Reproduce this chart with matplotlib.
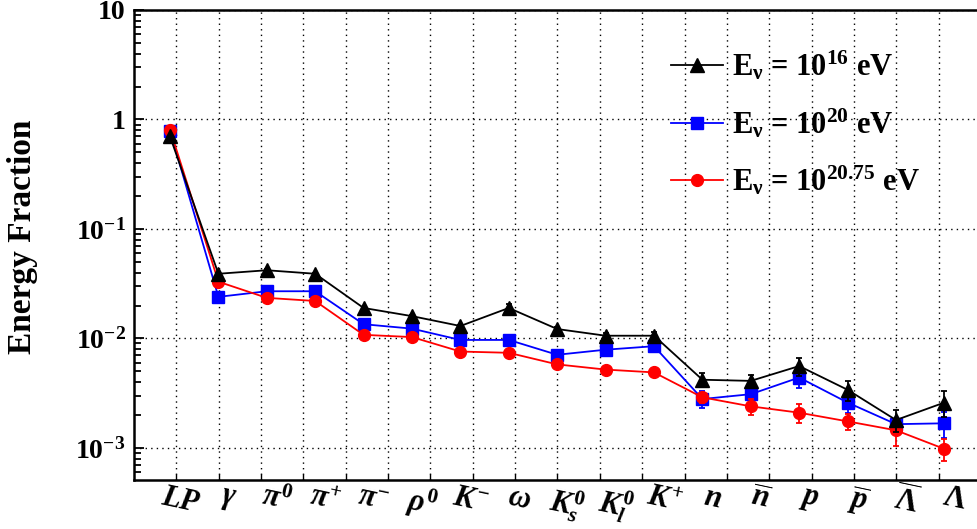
import matplotlib
matplotlib.use("Agg")
import matplotlib.pyplot as plt
from matplotlib.lines import Line2D
from matplotlib.transforms import ScaledTranslation
import numpy as np

plt.rcParams['font.family'] = ['Liberation Serif', 'DejaVu Serif']
plt.rcParams['font.weight'] = 'bold'
plt.rcParams['mathtext.fontset'] = 'custom'
plt.rcParams['mathtext.rm'] = 'Liberation Serif:bold'
plt.rcParams['mathtext.it'] = 'Liberation Serif:bold:italic'
plt.rcParams['mathtext.bf'] = 'Liberation Serif:bold'

# particle species on the x axis
particles = ["LP", r"$\gamma$", r"$\pi^{0}$", r"$\pi^{+}$", r"$\pi^{-}$", r"$\rho^{0}$",
             r"$K^{-}$", r"$\omega$", r"$K_{s}^{0}$", r"$K_{l}^{0}$", r"$K^{+}$",
             r"$n$", r"$\overline{n}$", r"$p$", r"$\overline{p}$",
             r"$\overline{\Lambda}$", r"$\Lambda$"]

# energy fraction per species, three neutrino energies
frac_e16 = [0.70, 0.039, 0.042, 0.039, 0.019, 0.016, 0.013, 0.019, 0.0122, 0.0106,
            0.0106, 0.0042, 0.0041, 0.0056, 0.0034, 0.0018, 0.0026]
err_e16 = [0.01, 0.0008, 0.0008, 0.0008, 0.0005, 0.0005, 0.0004, 0.0016, 0.0006, 0.0006,
           0.0008, 0.0006, 0.0005, 0.0011, 0.0007, 0.0004, 0.0007]

frac_e20 = [0.79, 0.024, 0.027, 0.027, 0.0135, 0.0123, 0.0097, 0.0097, 0.0071, 0.0079,
            0.0085, 0.0028, 0.0031, 0.0044, 0.0026, 0.00165, 0.00168]
err_e20 = [0.01, 0.0006, 0.0006, 0.0006, 0.0004, 0.0004, 0.0003, 0.0004, 0.0004, 0.0005,
           0.0006, 0.0005, 0.0003, 0.0009, 0.0005, 0.0002, 0.00045]

frac_e2075 = [0.81, 0.033, 0.0235, 0.022, 0.0108, 0.0103, 0.0076, 0.0074, 0.0058, 0.0052,
              0.0049, 0.0029, 0.0024, 0.0021, 0.00175, 0.00145, 0.00098]
err_e2075 = [0.01, 0.0008, 0.0006, 0.0006, 0.0004, 0.0004, 0.0003, 0.0003, 0.0004, 0.0003,
             0.0003, 0.0003, 0.0004, 0.0004, 0.0003, 0.0004, 0.00022]

energies = [r"E$_{\mathrm{ν}}$ = 10$^{16}$ eV", r"E$_{\mathrm{ν}}$ = 10$^{20}$ eV",
            r"E$_{\mathrm{ν}}$ = 10$^{20.75}$ eV"]

W, H = 977, 529
fig = plt.figure(figsize=(W / 100, H / 100), dpi=100)
ax = fig.add_axes([134 / W, 49 / H, 846 / W, 470 / H])

x = np.arange(len(particles))

# (values, errors, colour, marker, size, zorder)
series = [
    (frac_e20, err_e20, 'blue', 's', 8, 2),
    (frac_e2075, err_e2075, 'red', 'o', 8.5, 3),
    (frac_e16, err_e16, 'black', '^', 10, 4),
]
for vals, errs, col, mk, ms, z in series:
    ax.errorbar(x, vals, yerr=errs, color=col, marker=mk, markersize=ms,
                lw=1.3, elinewidth=1.3, capsize=2, capthick=1.3, zorder=z)

ax.set_yscale('log')
ax.set_ylim(5.1e-4, 10)
x0 = -36 / 48.4
ax.set_xlim(x0, x0 + 846 / 48.4)

# grid divisions along x are independent of the category positions
step = 42.35 / 48.4
ax.set_xticks(x0 + step * np.arange(1, 20))
ax.set_xticklabels([])
ax.set_xticks(x, minor=True)
ax.set_xticklabels(particles, minor=True, fontsize=22, style='italic', rotation=-12,
                   ha='center', va='top')
ax.tick_params(axis='x', which='major', direction='in', length=4, width=1, top=False)
ax.tick_params(axis='x', which='minor', length=0, pad=2)

# nudge category labels a little to the right of their points
shift = ScaledTranslation(10 / 100, 0, fig.dpi_scale_trans)
for lbl in ax.xaxis.get_minorticklabels():
    lbl.set_transform(lbl.get_transform() + shift)

ax.set_yticks([1e-3, 1e-2, 1e-1, 1, 10])
ax.set_yticklabels([r"10$^{-3}$", r"10$^{-2}$", r"10$^{-1}$", "1", "10"], fontsize=20)
ax.yaxis.set_minor_locator(matplotlib.ticker.LogLocator(base=10, subs=np.arange(2, 10)))
ax.yaxis.set_minor_formatter(matplotlib.ticker.NullFormatter())
ax.tick_params(axis='y', which='major', direction='in', length=7, width=1.3, pad=6)
ax.tick_params(axis='y', which='minor', direction='in', length=5, width=1.3)

ax.grid(True, which='major', color='black', linestyle=(0, (1, 3)), linewidth=1)
for s in ax.spines.values():
    s.set_linewidth(1.8)

ax.set_ylabel("Energy Fraction", fontsize=24, fontweight='bold')
ax.yaxis.set_label_coords(-96 / 846, (529 - 237 - 49) / 470)

legend_handles = [
    Line2D([], [], color='black', marker='^', markersize=10, lw=1.3),
    Line2D([], [], color='blue', marker='s', markersize=8, lw=1.3),
    Line2D([], [], color='red', marker='o', markersize=8.5, lw=1.3),
]
ax.legend(legend_handles, energies,
          loc='upper left', bbox_to_anchor=(659 / W, 1 - 37 / H), bbox_transform=fig.transFigure,
          frameon=False, fontsize=22, handlelength=1.7, handletextpad=0.3, labelspacing=0.78,
          borderaxespad=0)

fig.savefig("out.png", dpi=100)
